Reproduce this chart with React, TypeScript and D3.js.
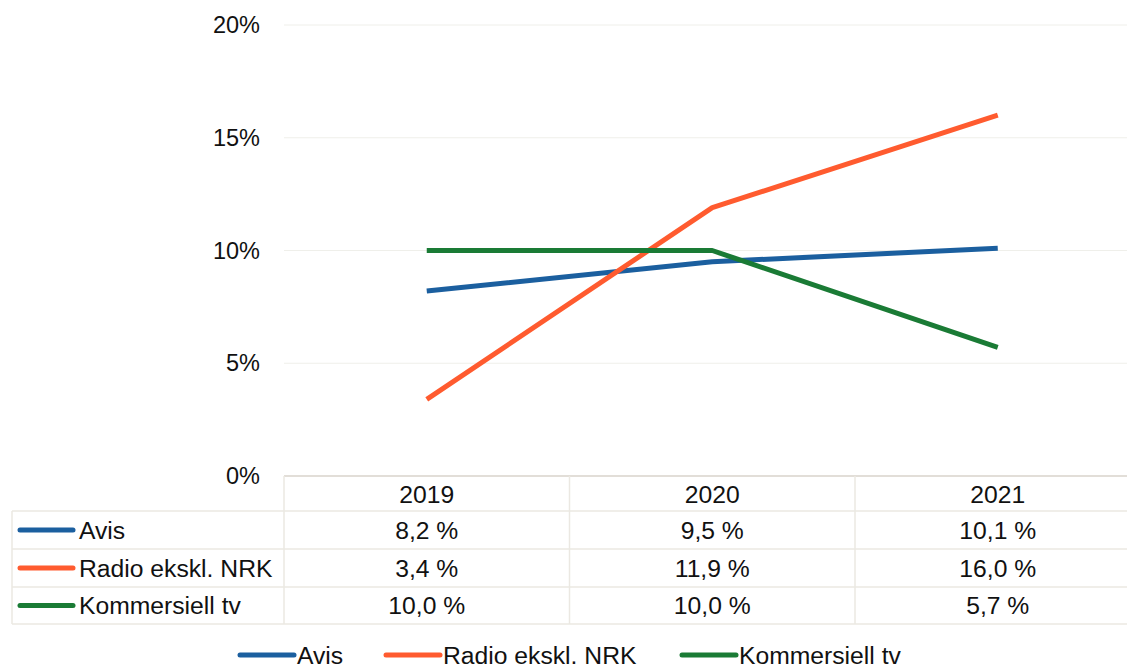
import { useEffect, useRef } from 'react';
import * as d3 from 'd3';

const years = ['2019', '2020', '2021'];
const seriesNames = ['Avis', 'Radio ekskl. NRK', 'Kommersiell tv'];
const avis = [8.2, 9.5, 10.1];
const radio = [3.4, 11.9, 16.0];
const kommersiell = [10.0, 10.0, 5.7];
const colors = ['#1b5f9f', '#ff5b2f', '#1a7b35'];
const yTicks = [0, 5, 10, 15, 20];

export default function App() {
  const svgRef = useRef<SVGSVGElement>(null);

  useEffect(() => {
    const width = 1127;
    const height = 672;
    const svg = d3.select(svgRef.current);
    svg.selectAll('*').remove();
    svg.attr('width', width).attr('height', height);

    const font = 'Liberation Sans, Arial, sans-serif';
    const fs = 24.7;
    const plotLeft = 284;
    const colW = 285.5;
    const values = [avis, radio, kommersiell];

    const x = d3.scaleBand<string>()
      .domain(years)
      .range([plotLeft, plotLeft + colW * years.length]);

    const y = d3.scaleLinear().domain([0, 20]).range([476, 25]);

    // gridlines
    svg.append('g')
      .selectAll('line')
      .data(yTicks)
      .enter().append('line')
      .attr('x1', plotLeft)
      .attr('x2', width)
      .attr('y1', d => y(d))
      .attr('y2', d => y(d))
      .attr('stroke', d => (d === 0 ? '#e2ded8' : '#efefea'))
      .attr('stroke-width', d => (d === 0 ? 2 : 1));

    // y labels
    svg.append('g')
      .selectAll('text')
      .data(yTicks)
      .enter().append('text')
      .attr('x', 260)
      .attr('y', d => y(d))
      .attr('dy', '0.35em')
      .attr('text-anchor', 'end')
      .attr('font-family', font)
      .attr('font-size', 23.5)
      .attr('fill', '#111')
      .text(d => `${d}%`);

    // data table
    const rowTops = [476, 511, 549, 587, 624];
    const table = svg.append('g').attr('stroke', '#ebe8e2').attr('stroke-width', 1.5);
    rowTops.slice(1).forEach(r => {
      table.append('line').attr('x1', 12).attr('x2', width).attr('y1', r).attr('y2', r);
    });
    table.append('line').attr('x1', 12).attr('x2', 12).attr('y1', 511).attr('y2', 624);
    years.forEach(yr => {
      const cx = x(yr)!;
      table.append('line').attr('x1', cx).attr('x2', cx).attr('y1', 476).attr('y2', 624);
    });

    const mid = (i: number) => (rowTops[i] + rowTops[i + 1]) / 2;

    svg.append('g')
      .selectAll('text')
      .data(years)
      .enter().append('text')
      .attr('x', d => x(d)! + x.bandwidth() / 2)
      .attr('y', mid(0) + 1)
      .attr('dy', '0.35em')
      .attr('text-anchor', 'middle')
      .attr('font-family', font)
      .attr('font-size', fs)
      .attr('fill', '#111')
      .text(d => d);

    const fmt = (v: number) => `${v.toFixed(1).replace('.', ',')} %`;

    seriesNames.forEach((name, s) => {
      const ry = mid(s + 1);
      svg.append('line')
        .attr('x1', 20).attr('x2', 73)
        .attr('y1', ry).attr('y2', ry)
        .attr('stroke', colors[s])
        .attr('stroke-width', 5)
        .attr('stroke-linecap', 'round');
      svg.append('text')
        .attr('x', 79).attr('y', ry)
        .attr('dy', '0.35em')
        .attr('font-family', font)
        .attr('font-size', fs)
        .attr('fill', '#111')
        .text(name);
      svg.append('g')
        .selectAll('text')
        .data(values[s])
        .enter().append('text')
        .attr('x', (_, i) => x(years[i])! + x.bandwidth() / 2)
        .attr('y', ry)
        .attr('dy', '0.35em')
        .attr('text-anchor', 'middle')
        .attr('font-family', font)
        .attr('font-size', fs)
        .attr('fill', '#111')
        .text(d => fmt(d));
    });

    // lines
    const line = d3.line<number>()
      .x((_, i) => x(years[i])! + x.bandwidth() / 2)
      .y(d => y(d));

    values.forEach((vals, s) => {
      svg.append('path')
        .datum(vals)
        .attr('d', line)
        .attr('fill', 'none')
        .attr('stroke', colors[s])
        .attr('stroke-width', 5)
        .attr('stroke-linejoin', 'round');
    });

    // legend
    const legendX = [238, 384, 680];
    const legendY = 655;
    seriesNames.forEach((name, s) => {
      const lx = legendX[s];
      svg.append('line')
        .attr('x1', lx + 2).attr('x2', lx + 56)
        .attr('y1', legendY).attr('y2', legendY)
        .attr('stroke', colors[s])
        .attr('stroke-width', 5)
        .attr('stroke-linecap', 'round');
      svg.append('text')
        .attr('x', lx + 59).attr('y', legendY)
        .attr('dy', '0.35em')
        .attr('font-family', font)
        .attr('font-size', fs)
        .attr('fill', '#111')
        .text(name);
    });
  }, []);

  return (
    <svg
      ref={svgRef}
      style={{ position: 'absolute', left: 0, top: 0, display: 'block', background: '#fff' }}
    />
  );
}
